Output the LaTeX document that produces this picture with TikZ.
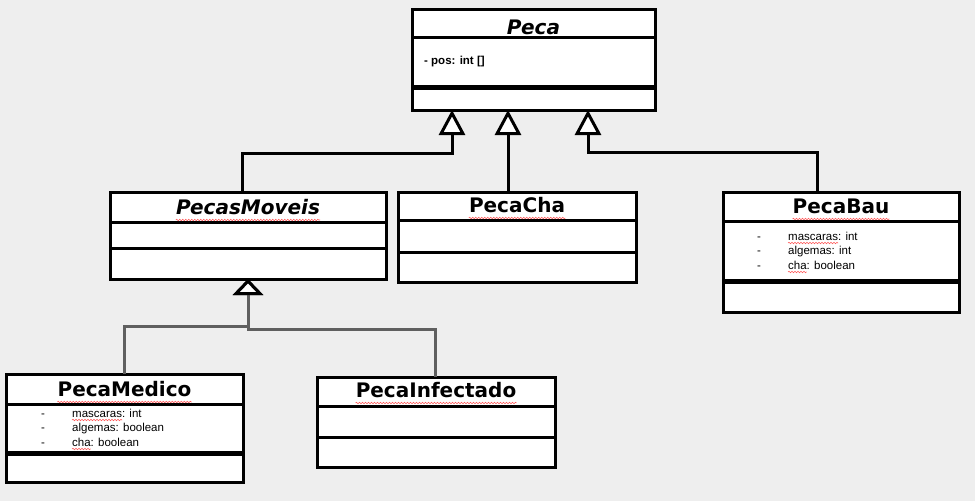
\documentclass[tikz,border=0pt]{standalone}
\usepackage{fontspec}
\setmainfont{Liberation Sans}
\newfontfamily\titlefont{DejaVu Sans}
\usetikzlibrary{arrows.meta,calc,decorations.pathmorphing}
\definecolor{bggray}{HTML}{EEEEEE}
\definecolor{linkgray}{HTML}{5F5F5F}
\tikzset{
  classbox/.style={draw, fill=white, line width=3pt, outer sep=0pt, inner sep=0pt},
  divider/.style={line width=3pt},
  thickdivider/.style={line width=5pt},
  classname/.style={font=\titlefont\bfseries\fontsize{20}{24}\selectfont, anchor=base, inner sep=0pt},
  attr/.style={font=\fontsize{11.5}{14}\selectfont, anchor=base west, inner sep=0pt},
  gen/.style={line width=3pt, -{Triangle[width=26pt,length=25pt,fill=white]}},
  subgen/.style={line width=3pt, draw=linkgray, -{Triangle[width=30pt,length=16pt,fill=white,color=black]}},
  spell/.style={draw=red!65, line width=0.6pt, decorate, decoration={snake, amplitude=0.7pt, segment length=3pt}}
}
\begin{document}
\begin{tikzpicture}[x=1pt, y=-1pt]
  \fill[bggray] (0,0) rectangle (975,501);
  \useasboundingbox (0,0) rectangle (975,501);

  % classes
  \node[classbox, minimum width=243, minimum height=101] (peca) at (533.5,59.5) {};
  \node[classbox, minimum width=276, minimum height=87] (moveis) at (248,235.5) {};
  \node[classbox, minimum width=238, minimum height=90] (cha) at (517,237) {};
  \node[classbox, minimum width=236, minimum height=120] (bau) at (841,252) {};
  \node[classbox, minimum width=237, minimum height=108] (medico) at (124.5,428) {};
  \node[classbox, minimum width=238, minimum height=90] (infectado) at (436,422) {};

  % compartments
  \draw[divider] ([yshift=-28pt]peca.north west) -- ([yshift=-28pt]peca.north east);
  \draw[thickdivider] ([yshift=-78pt]peca.north west) -- ([yshift=-78pt]peca.north east);
  \draw[divider] ([yshift=-30pt]moveis.north west) -- ([yshift=-30pt]moveis.north east);
  \draw[divider] ([yshift=-56pt]moveis.north west) -- ([yshift=-56pt]moveis.north east);
  \draw[divider] ([yshift=-28pt]cha.north west) -- ([yshift=-28pt]cha.north east);
  \draw[divider] ([yshift=-60pt]cha.north west) -- ([yshift=-60pt]cha.north east);
  \draw[divider] ([yshift=-29pt]bau.north west) -- ([yshift=-29pt]bau.north east);
  \draw[thickdivider] ([yshift=-89pt]bau.north west) -- ([yshift=-89pt]bau.north east);
  \draw[divider] ([yshift=-30pt]medico.north west) -- ([yshift=-30pt]medico.north east);
  \draw[thickdivider] ([yshift=-79pt]medico.north west) -- ([yshift=-79pt]medico.north east);
  \draw[divider] ([yshift=-29pt]infectado.north west) -- ([yshift=-29pt]infectado.north east);
  \draw[divider] ([yshift=-60pt]infectado.north west) -- ([yshift=-60pt]infectado.north east);

  % names
  \node[classname] (peca-t) at (533.5,34) {\itshape Peca};
  \node[classname] (moveis-t) at (248,214) {\itshape PecasMoveis};
  \node[classname] (cha-t) at (517,212) {PecaCha};
  \node[classname] (bau-t) at (841,213) {PecaBau};
  \node[classname] (medico-t) at (124.5,396) {PecaMedico};
  \node[classname] (infectado-t) at (436,397) {PecaInfectado};

  % attributes
  \node[attr, font=\fontsize{11.5}{14}\selectfont\bfseries] (peca-a1) at (424,64) {- pos: int []};
  \node[attr] (bau-d1) at (757,240) {-};
  \node[attr] (bau-d2) at (757,254) {-};
  \node[attr] (bau-d3) at (757,269) {-};
  \node[attr] (bau-a1) at (788,240) {mascaras: int};
  \node[attr] (bau-a2) at (788,254) {algemas: int};
  \node[attr] (bau-a3) at (788,269) {cha: boolean};
  \node[attr] (medico-d1) at (41,417) {-};
  \node[attr] (medico-d2) at (41,431) {-};
  \node[attr] (medico-d3) at (41,446) {-};
  \node[attr] (medico-a1) at (72,417) {mascaras: int};
  \node[attr] (medico-a2) at (72,431) {algemas: boolean};
  \node[attr] (medico-a3) at (72,446) {cha: boolean};

  % spell check marks
  \draw[spell] ($(moveis-t.base west)+(0,6)$) -- ($(moveis-t.base east)+(0,6)$);
  \draw[spell] ($(cha-t.base west)+(0,6)$) -- ($(cha-t.base east)+(0,6)$);
  \draw[spell] ($(bau-t.base west)+(0,6)$) -- ($(bau-t.base east)+(0,6)$);
  \draw[spell] ($(medico-t.base west)+(0,6)$) -- ($(medico-t.base east)+(0,6)$);
  \draw[spell] ($(infectado-t.base west)+(0,6)$) -- ($(infectado-t.base east)+(0,6)$);
  \draw[spell] ($(bau-a1.base west)+(0,3)$) -- ++(50,0);
  \draw[spell] ($(bau-a3.base west)+(0,3)$) -- ++(18.5,0);
  \draw[spell] ($(medico-a1.base west)+(0,3)$) -- ++(50,0);
  \draw[spell] ($(medico-a3.base west)+(0,3)$) -- ++(18.5,0);

  % generalizations
  \draw[gen] ([xshift=-6pt]moveis.north) -- ++(0,-39) -| ([xshift=40pt]peca.south west);
  \draw[gen] ([xshift=110pt]cha.north west) -- ([xshift=96pt]peca.south west);
  \draw[gen] ([xshift=94pt]bau.north west) -- ++(0,-40) -| ([xshift=176pt]peca.south west);
  \draw[subgen] ([xshift=118pt]medico.north west) -- ++(0,-48) -| (moveis.south);
  \draw[subgen] ([xshift=118pt]infectado.north west) -- ++(0,-48) -| (moveis.south);
\end{tikzpicture}
\end{document}
